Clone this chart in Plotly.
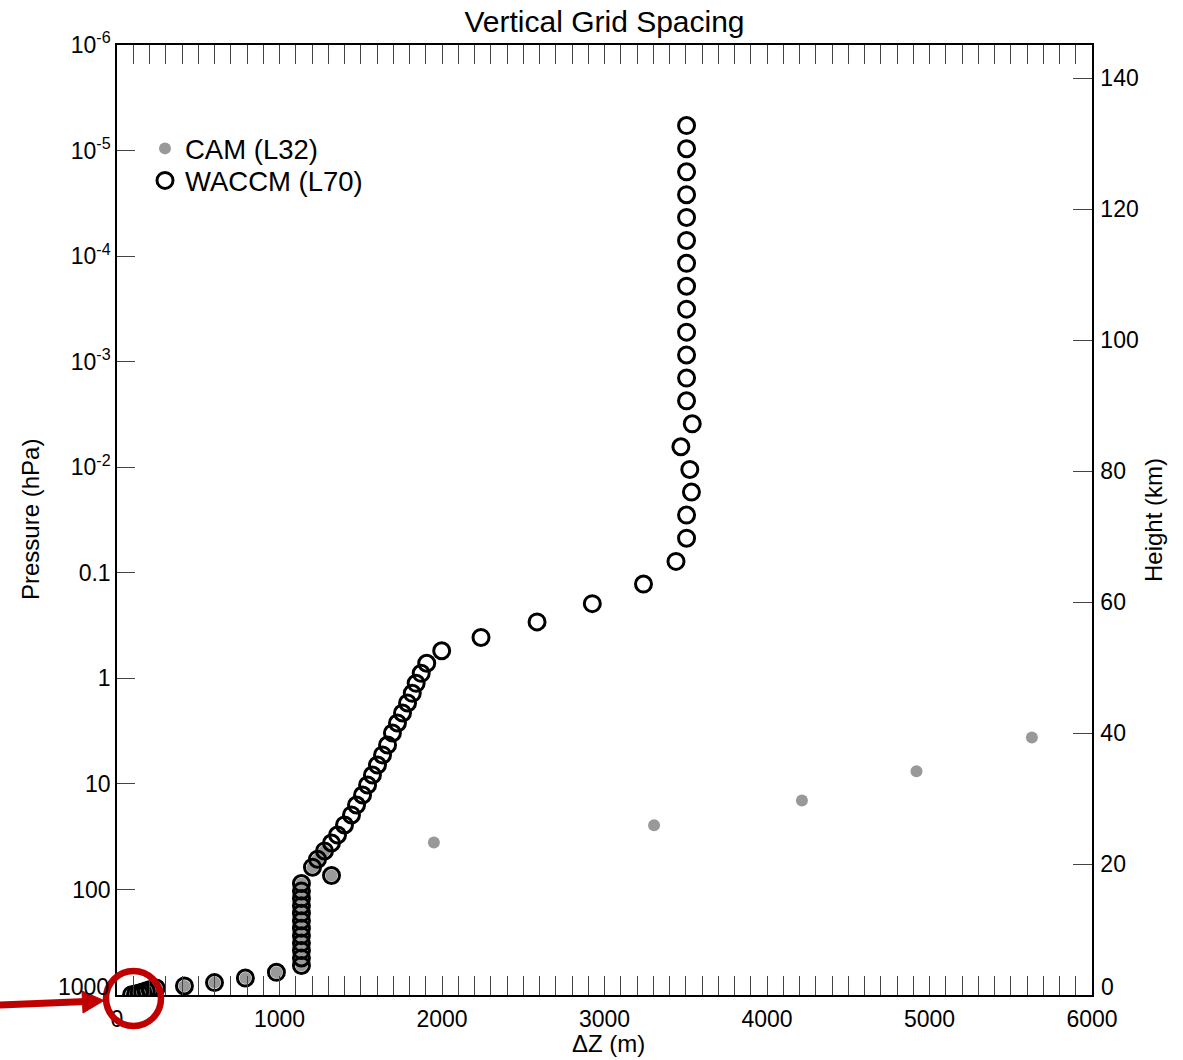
import plotly.graph_objects as go

# ---- WACCM (L70) level pressures (hPa) and layer thickness (m) ----
waccm_p = [5.8e-6, 9.6e-6, 1.59e-5, 2.62e-5, 4.3e-5, 7.1e-5, 1.17e-4, 1.93e-4,
           3.18e-4, 5.25e-4, 8.65e-4, 1.43e-3, 2.35e-3, 3.88e-3, 6.4e-3, 1.05e-2,
           1.72e-2, 2.84e-2, 4.7e-2, 7.8e-2, 0.128, 0.196, 0.292, 0.41, 0.548, 0.72,
           0.896, 1.114, 1.386, 1.713, 2.13, 2.65, 3.295, 4.28, 5.32, 6.62, 8.24,
           10.24, 12.74, 15.85, 19.7, 24.5, 30.5, 36.3,
           43.19, 51.68, 61.52, 73.75,
           87.82, 103.32, 121.55, 142.99, 168.23, 197.91, 232.83, 273.91, 322.24,
           379.10, 445.99, 524.69,
           609.78, 691.39, 763.40, 820.86, 859.53,
           887.02, 912.64, 936.20, 957.49, 976.33, 992.56]
waccm_dz = [3505, 3505, 3505, 3505, 3505, 3505, 3505, 3505,
            3505, 3505, 3505, 3505, 3505, 3540, 3470, 3525,
            3535, 3505, 3505, 3440, 3240, 2925, 2585, 2240, 1998, 1906,
            1872, 1841, 1817, 1788, 1757, 1726, 1695, 1665, 1634, 1603, 1572,
            1542, 1511, 1474, 1443, 1400, 1357, 1320,
            1277, 1234, 1203, 1320,
            1135, 1135, 1135, 1135, 1135, 1135, 1135, 1135, 1135,
            1135, 1135, 1135,
            981, 790, 600, 415, 241,
            205, 180, 158, 137, 115, 90]

# ---- CAM (L32) level pressures (hPa) and layer thickness (m) ----
cam_p = [3.64, 7.59, 14.36, 24.61, 35.92,
         43.19, 51.68, 61.52, 73.75,
         87.82, 103.32, 121.55, 142.99, 168.23, 197.91, 232.83, 273.91, 322.24,
         379.10, 445.99, 524.69,
         609.78, 691.39, 763.40, 820.86, 859.53,
         887.02, 912.64, 936.20, 957.49, 976.33, 992.56]
cam_dz = [5630, 4920, 4215, 3305, 1950,
          1277, 1234, 1203, 1320,
          1135, 1135, 1135, 1135, 1135, 1135, 1135, 1135, 1135,
          1135, 1135, 1135,
          981, 790, 600, 415, 241,
          205, 180, 158, 137, 115, 90]

# ---- axis ticks ----
p_ticks = [1e-6, 1e-5, 1e-4, 1e-3, 1e-2, 0.1, 1, 10, 100, 1000]
p_labels = ["10<sup>-6</sup>", "10<sup>-5</sup>", "10<sup>-4</sup>", "10<sup>-3</sup>",
            "10<sup>-2</sup>", "0.1", "1", "10", "100", ""]
x_ticks = [0, 1000, 2000, 3000, 4000, 5000, 6000]
h_ticks = [0, 20, 40, 60, 80, 100, 120, 140]
h_labels = ["", "20", "40", "60", "80", "100", "120", "140"]
h_top = 145.06  # 7 km * ln(1000 / 1e-6)

FONT = "Liberation Sans, Arial, Helvetica, sans-serif"
W, H = 1183, 1060
L, R, T, B = 117, 91, 45, 65
PW, PH = W - L - R, H - T - B


def px(xp):
    return (xp - L) / PW


def py(yp):
    return (H - B - yp) / PH


fig = go.Figure()

fig.add_trace(go.Scatter(
    x=cam_dz, y=cam_p, mode="markers", name="CAM (L32)", legend="legend",
    marker=dict(symbol="circle", size=12, color="#999999", line=dict(width=0)),
))
fig.add_trace(go.Scatter(
    x=waccm_dz, y=waccm_p, mode="markers", name="WACCM (L70)", legend="legend2",
    marker=dict(symbol="circle-open", size=16, color="black", line=dict(width=3, color="black")),
))
# carrier for the height axis on the right
fig.add_trace(go.Scatter(x=[None], y=[None], yaxis="y2", showlegend=False, hoverinfo="skip"))

tick_col = "#444444"
leg_common = dict(xanchor="left", yanchor="top", font=dict(size=27.5, family=FONT),
                  bgcolor="rgba(0,0,0,0)", borderwidth=0, itemwidth=30)
fig.update_layout(
    width=W, height=H,
    margin=dict(l=L, r=R, t=T, b=B, pad=0),
    paper_bgcolor="white", plot_bgcolor="white",
    font=dict(family=FONT, size=23, color="black"),
    showlegend=True,
    legend=dict(x=px(145), y=py(124), **leg_common),
    legend2=dict(x=px(145), y=py(156), **leg_common),
    title=dict(text="Vertical Grid Spacing", x=0.5, xref="paper", xanchor="center",
               y=1 - 21 / H, yref="container", yanchor="middle",
               font=dict(size=30, family=FONT)),
    xaxis=dict(range=[0, 6000], tickvals=x_ticks, ticks="inside", ticklen=19,
               tickcolor=tick_col, tickwidth=1, showline=True, linecolor="black",
               linewidth=1.5, mirror="allticks", showgrid=False, zeroline=False,
               ticklabelstandoff=3,
               minor=dict(dtick=100, ticks="inside", ticklen=9, tickcolor=tick_col,
                          tickwidth=1, showgrid=False)),
    yaxis=dict(type="log", range=[3, -6], tickvals=p_ticks, ticktext=p_labels,
               ticks="inside", ticklen=18, tickcolor=tick_col, tickwidth=1,
               showline=True, linecolor="black", linewidth=1.5, mirror=False,
               showgrid=False, zeroline=False, ticklabelstandoff=0),
    yaxis2=dict(overlaying="y", side="right", range=[0, h_top], tickvals=h_ticks,
                ticktext=h_labels, ticks="inside", ticklen=19, tickcolor=tick_col,
                tickwidth=1, showline=True, linecolor="black", linewidth=1.5,
                showgrid=False, zeroline=False, ticklabelstandoff=2),
)

ann = dict(xref="paper", yref="paper", showarrow=False, font=dict(size=23, family=FONT))
fig.add_annotation(text="1000", x=px(111), y=py(987), xanchor="right", yanchor="middle", **ann)
fig.add_annotation(text="0", x=px(1099), y=py(987), xanchor="left", yanchor="middle", **ann)
title_font = dict(size=24, family=FONT)
fig.add_annotation(text="Pressure (hPa)", x=px(30), y=py(520), textangle=-90,
                   xanchor="center", yanchor="middle", xref="paper", yref="paper",
                   showarrow=False, font=title_font)
fig.add_annotation(text="Height (km)", x=px(1153), y=py(520), textangle=-90,
                   xanchor="center", yanchor="middle", xref="paper", yref="paper",
                   showarrow=False, font=title_font)
fig.add_annotation(text="ΔZ (m)", x=px(608), y=py(1043), xanchor="center",
                   yanchor="middle", xref="paper", yref="paper",
                   showarrow=False, font=title_font)

# red highlight ring and pointer at the near-surface levels
red = "#c00000"
fig.add_shape(type="circle", xref="paper", yref="paper",
              x0=px(106), x1=px(161), y0=py(971), y1=py(1026),
              line=dict(color=red, width=6.5), layer="above")
fig.add_shape(type="line", xref="paper", yref="paper",
              x0=px(-2), y0=py(1005), x1=px(86), y1=py(1001.5),
              line=dict(color=red, width=7), layer="above")
fig.add_shape(type="path", xref="paper", yref="paper",
              path=f"M {px(82)},{py(991)} L {px(104)},{py(1000.5)} L {px(83)},{py(1013)} Z",
              fillcolor=red, line=dict(color=red, width=1), layer="above")

fig.write_html("out.html")
